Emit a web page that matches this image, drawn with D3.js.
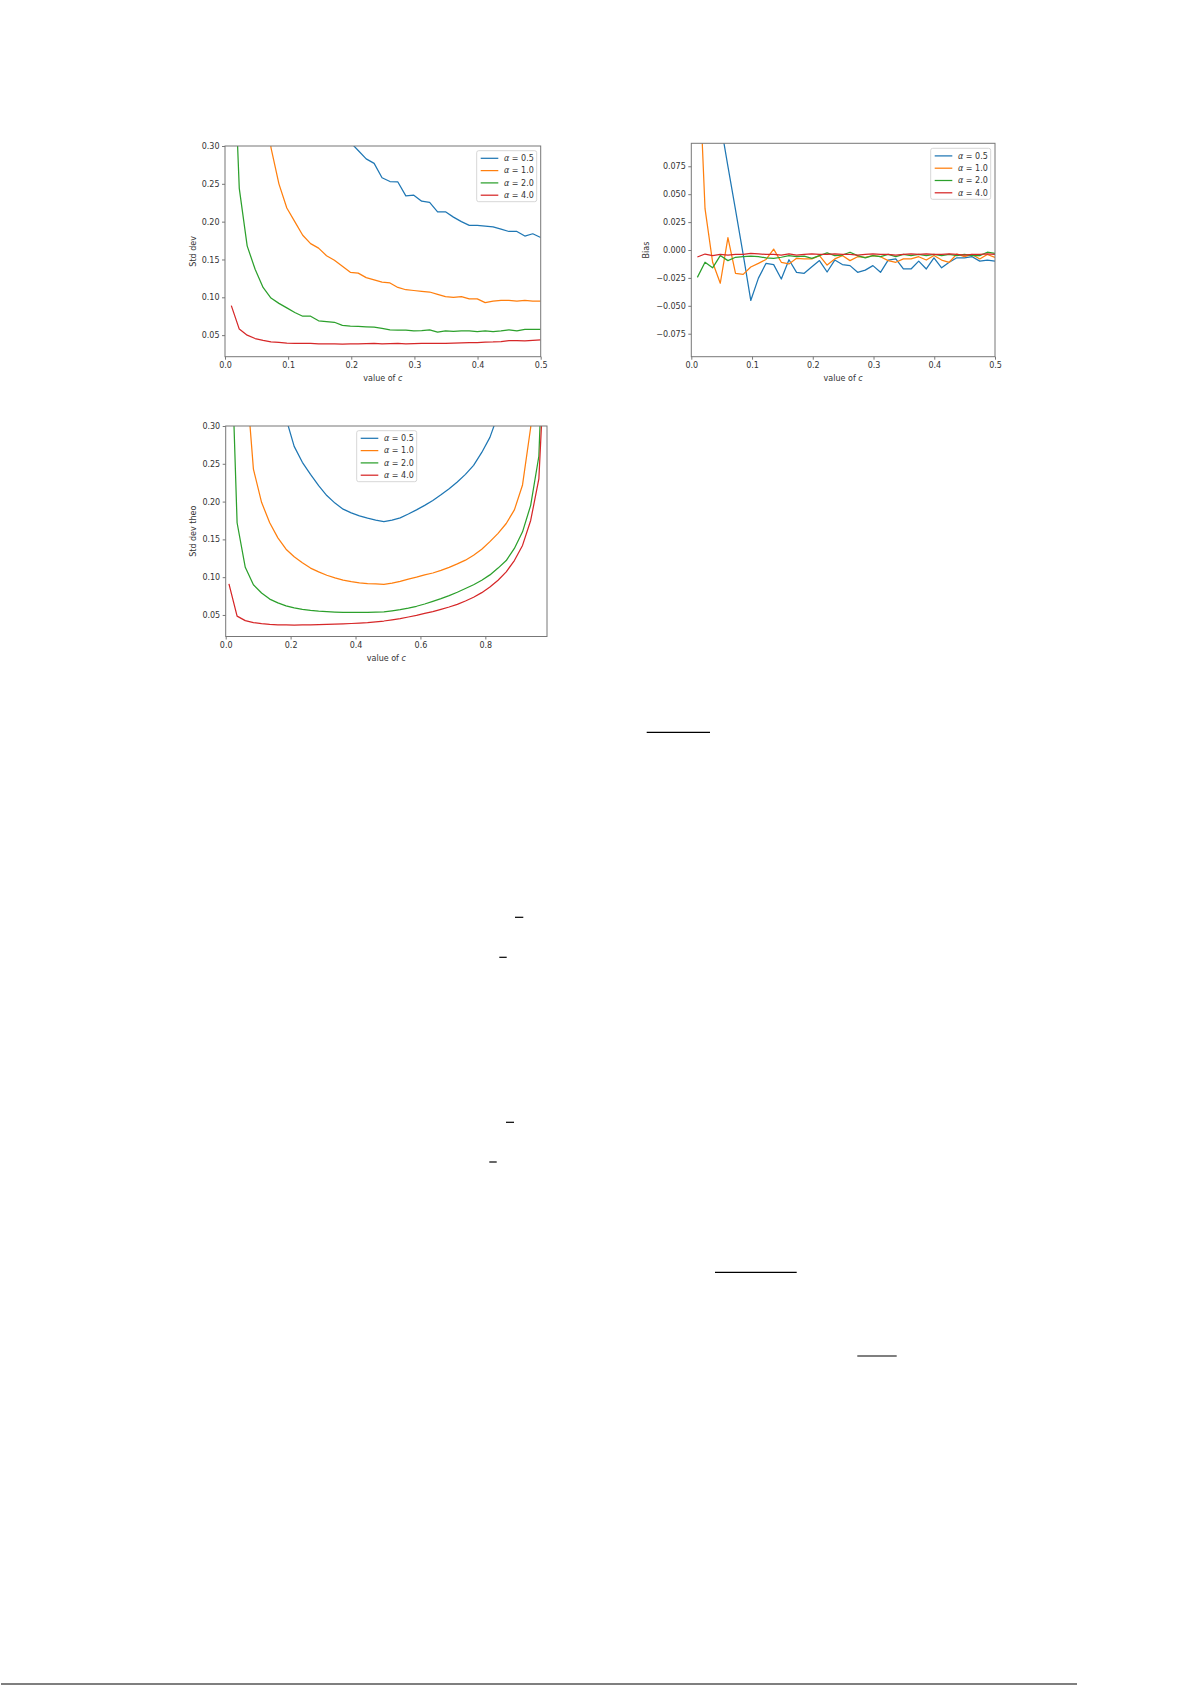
<!DOCTYPE html>
<html>
<head>
<meta charset="utf-8">
<script src="https://cdn.jsdelivr.net/npm/d3@7"></script>
<style>
  html, body { margin: 0; padding: 0; background: #fff; }
  svg { display: block; font-family: "DejaVu Sans", sans-serif; }
</style>
</head>
<body>
<svg id="page"></svg>
<script>
// sample points of c (simulation: 40 points on [0.01, 0.5], theory: 40 points on [0.01, 0.99])
const cSim = [0.0100, 0.0226, 0.0351, 0.0477, 0.0603, 0.0728, 0.0854, 0.0979, 0.1105, 0.1231,
              0.1356, 0.1482, 0.1608, 0.1733, 0.1859, 0.1985, 0.2110, 0.2236, 0.2362, 0.2487,
              0.2613, 0.2738, 0.2864, 0.2990, 0.3115, 0.3241, 0.3367, 0.3492, 0.3618, 0.3744,
              0.3869, 0.3995, 0.4121, 0.4246, 0.4372, 0.4497, 0.4623, 0.4749, 0.4874, 0.5000];
const cTheo = [0.0100, 0.0351, 0.0603, 0.0854, 0.1105, 0.1356, 0.1608, 0.1859, 0.2110, 0.2362,
               0.2613, 0.2864, 0.3115, 0.3367, 0.3618, 0.3869, 0.4121, 0.4372, 0.4623, 0.4874,
               0.5126, 0.5377, 0.5628, 0.5879, 0.6131, 0.6382, 0.6633, 0.6885, 0.7136, 0.7387,
               0.7638, 0.7890, 0.8141, 0.8392, 0.8644, 0.8895, 0.9146, 0.9397, 0.9649, 0.9900];

const alphas = ["0.5", "1.0", "2.0", "4.0"];
const colors = ["#1f77b4", "#ff7f0e", "#2ca02c", "#d62728"];

// Std dev (simulated)
const stdA05 = [1.6, 1.25, 1.0, 0.85, 0.74, 0.66, 0.59, 0.53, 0.48, 0.44,
                0.41, 0.385, 0.365, 0.345, 0.325, 0.305, 0.294, 0.283, 0.277, 0.258,
                0.253, 0.2525, 0.234, 0.235, 0.227, 0.2255, 0.213, 0.213, 0.206, 0.2,
                0.195, 0.195, 0.194, 0.193, 0.19, 0.187, 0.187, 0.181, 0.184, 0.179];
const stdA10 = [2.2, 1.3, 0.85, 0.6, 0.42, 0.298, 0.25, 0.218, 0.2, 0.182,
                0.171, 0.165, 0.155, 0.149, 0.141, 0.133, 0.132, 0.126, 0.123, 0.12,
                0.119, 0.113, 0.11, 0.109, 0.108, 0.107, 0.104, 0.101, 0.1, 0.101,
                0.098, 0.098, 0.093, 0.095, 0.096, 0.096, 0.095, 0.096, 0.095, 0.095];
const stdA20 = [0.51, 0.244, 0.168, 0.137, 0.113, 0.099, 0.092, 0.086, 0.08, 0.075,
                0.075, 0.069, 0.068, 0.067, 0.063, 0.062, 0.0615, 0.061, 0.0605, 0.059,
                0.057, 0.0565, 0.0565, 0.0555, 0.056, 0.057, 0.054, 0.0555, 0.055, 0.0555,
                0.0555, 0.0545, 0.0555, 0.0545, 0.0555, 0.057, 0.0555, 0.0575, 0.0575, 0.0575];
const stdA40 = [0.089, 0.058, 0.05, 0.0455, 0.043, 0.041, 0.0405, 0.0395, 0.039, 0.039,
                0.0392, 0.0385, 0.0383, 0.0385, 0.0382, 0.0385, 0.0385, 0.0388, 0.0392, 0.0385,
                0.0388, 0.039, 0.0385, 0.0388, 0.039, 0.039, 0.0392, 0.039, 0.0395, 0.0398,
                0.04, 0.04, 0.0408, 0.041, 0.0415, 0.0428, 0.0428, 0.0425, 0.0432, 0.0437];

// Bias (simulated)
const biasA05 = [0.26, 0.21, 0.16, 0.115, 0.075, 0.036, -0.004, -0.0452, -0.0252, -0.0119,
                 -0.0131, -0.026, -0.0087, -0.02, -0.0209, -0.015, -0.0095, -0.0197, -0.009, -0.013,
                 -0.014, -0.02, -0.018, -0.014, -0.02, -0.009, -0.008, -0.017, -0.017, -0.01,
                 -0.017, -0.007, -0.016, -0.011, -0.007, -0.007, -0.006, -0.01, -0.009, -0.01];
const biasA10 = [0.2, 0.037, -0.011, -0.0298, 0.011, -0.021, -0.0218, -0.0152, -0.012, -0.0085,
                 0.0008, -0.011, -0.0125, -0.0075, -0.008, -0.008, -0.005, -0.0135, -0.008, -0.005,
                 -0.0095, -0.006, -0.0065, -0.005, -0.006, -0.0095, -0.011, -0.008, -0.008, -0.006,
                 -0.009, -0.005, -0.009, -0.011, -0.0036, -0.006, -0.004, -0.008, -0.004, -0.0066];
const biasA20 = [-0.0245, -0.011, -0.016, -0.005, -0.0095, -0.0065, -0.006, -0.0055, -0.006, -0.007,
                 -0.0075, -0.0065, -0.005, -0.006, -0.0055, -0.0075, -0.005, -0.0025, -0.005, -0.0045,
                 -0.002, -0.005, -0.007, -0.005, -0.006, -0.004, -0.006, -0.004, -0.005, -0.004,
                 -0.005, -0.004, -0.005, -0.004, -0.005, -0.004, -0.005, -0.005, -0.002, -0.003];
const biasA40 = [-0.0063, -0.0036, -0.005, -0.004, -0.0045, -0.004, -0.004, -0.003, -0.0035, -0.004,
                 -0.004, -0.0045, -0.0035, -0.0045, -0.004, -0.0035, -0.004, -0.004, -0.0035, -0.004,
                 -0.004, -0.0045, -0.004, -0.0035, -0.004, -0.004, -0.0045, -0.004, -0.0035, -0.004,
                 -0.0035, -0.004, -0.004, -0.0035, -0.004, -0.0045, -0.004, -0.004, -0.0035, -0.004];

// Std dev (theoretical)
const theoA05 = [2.0, 1.3, 0.95, 0.72, 0.57, 0.46, 0.375, 0.31, 0.273, 0.252,
                 0.236, 0.221, 0.208, 0.198, 0.19, 0.185, 0.181, 0.178, 0.1755, 0.1735,
                 0.1755, 0.1785, 0.1835, 0.189, 0.195, 0.2015, 0.209, 0.217, 0.226, 0.236,
                 0.248, 0.265, 0.285, 0.315, 0.36, 0.43, 0.55, 0.75, 1.1, 2.0];
const theoA10 = [1.0, 0.62, 0.38, 0.243, 0.199, 0.172, 0.152, 0.137, 0.127, 0.119,
                 0.112, 0.107, 0.1025, 0.099, 0.096, 0.094, 0.0925, 0.0915, 0.091, 0.0905,
                 0.092, 0.0945, 0.0975, 0.1, 0.103, 0.1055, 0.109, 0.113, 0.1175, 0.1225,
                 0.129, 0.137, 0.147, 0.158, 0.171, 0.189, 0.222, 0.298, 0.45, 1.0];
const theoA20 = [0.51, 0.172, 0.113, 0.09, 0.079, 0.071, 0.066, 0.062, 0.0595, 0.0575,
                 0.056, 0.055, 0.0543, 0.0538, 0.0535, 0.0533, 0.0533, 0.0535, 0.0537, 0.054,
                 0.0555, 0.057, 0.059, 0.0615, 0.0645, 0.068, 0.0715, 0.0755, 0.08, 0.085,
                 0.09, 0.096, 0.103, 0.112, 0.122, 0.138, 0.16, 0.195, 0.26, 0.55];
const theoA40 = [0.091, 0.0485, 0.0425, 0.0398, 0.0385, 0.0375, 0.037, 0.0368, 0.0367, 0.0368,
                 0.037, 0.0372, 0.0375, 0.0378, 0.0382, 0.0387, 0.0393, 0.04, 0.041, 0.042,
                 0.0435, 0.0452, 0.0473, 0.0495, 0.052, 0.0545, 0.0575, 0.0605, 0.064, 0.0685,
                 0.0735, 0.0795, 0.087, 0.096, 0.107, 0.122, 0.142, 0.175, 0.23, 0.45];

const stdTicksY  = [0.05, 0.10, 0.15, 0.20, 0.25, 0.30];
const biasTicksY = [-0.075, -0.050, -0.025, 0.000, 0.025, 0.050, 0.075];
const simTicksX  = [0.0, 0.1, 0.2, 0.3, 0.4, 0.5];
const theoTicksX = [0.0, 0.2, 0.4, 0.6, 0.8];

// leftover fraction bars of the page text (page layout, not data)
const pageRules = [
    [646.7, 710, 732.3], [515, 523.3, 917.3], [499.3, 506.7, 957.3],
    [506, 514, 1122.3], [489.3, 496.7, 1162], [715, 796.7, 1272.3],
    [857.3, 896.7, 1356], [1, 1077, 1684]
];

const W = 1192, H = 1685;
const svg = d3.select("#page").attr("width", W).attr("height", H);
svg.append("rect").attr("width", W).attr("height", H).attr("fill", "#fff");

const minus = s => s.replace("-", "\u2212");

const panels = [
    { id: "p1", left: 225, top: 146, right: 540.7, bottom: 356.7,
      xDomain: [0, 0.5], yDomain: [0.0215, 0.30], xTicks: simTicksX, yTicks: stdTicksY,
      yFmt: d3.format(".2f"), xFmt: d3.format(".1f"),
      yLabel: "Std dev", yLabelX: 192.7, xs: cSim,
      series: [stdA05, stdA10, stdA20, stdA40],
      legend: { x: 476.7, y: 150.7 } },
    { id: "p2", left: 691.3, top: 143.3, right: 995, bottom: 356.7,
      xDomain: [0, 0.5], yDomain: [-0.0956, 0.0956], xTicks: simTicksX, yTicks: biasTicksY,
      yFmt: d => minus(d3.format(".3f")(d)), xFmt: d3.format(".1f"),
      yLabel: "Bias", yLabelX: 646.5, xs: cSim,
      series: [biasA05, biasA10, biasA20, biasA40],
      legend: { x: 930.7, y: 148.3 } },
    { id: "p3", left: 225.7, top: 426, right: 547, bottom: 636.5,
      xDomain: [0, 0.99], yDomain: [0.0215, 0.30], xTicks: theoTicksX, yTicks: stdTicksY,
      yFmt: d3.format(".2f"), xFmt: d3.format(".1f"),
      yLabel: "Std dev theo", yLabelX: 192.7, xs: cTheo,
      series: [theoA05, theoA10, theoA20, theoA40],
      legend: { x: 356.7, y: 430.7 } }
];

function drawPanel(p) {
    const x = d3.scaleLinear().domain(p.xDomain).range([p.left, p.right]);
    const y = d3.scaleLinear().domain(p.yDomain).range([p.bottom, p.top]);
    const g = svg.append("g");

    g.append("clipPath").attr("id", "clip-" + p.id)
        .append("rect")
        .attr("x", p.left).attr("y", p.top)
        .attr("width", p.right - p.left).attr("height", p.bottom - p.top);

    const line = d3.line().x((d, i) => x(p.xs[i])).y(d => y(d));
    p.series.forEach((vals, k) => {
        g.append("path")
            .datum(vals)
            .attr("clip-path", `url(#clip-${p.id})`)
            .attr("fill", "none")
            .attr("stroke", colors[k])
            .attr("stroke-width", 1.25)
            .attr("stroke-linejoin", "round")
            .attr("d", line);
    });

    // axes
    const ax = g.append("g").attr("transform", `translate(0,${p.bottom})`)
        .call(d3.axisBottom(x).tickValues(p.xTicks).tickFormat(p.xFmt).tickSize(3).tickSizeOuter(0).tickPadding(2.5));
    const ay = g.append("g").attr("transform", `translate(${p.left},0)`)
        .call(d3.axisLeft(y).tickValues(p.yTicks).tickFormat(p.yFmt).tickSize(3).tickSizeOuter(0).tickPadding(2.5));
    [ax, ay].forEach(a => {
        a.select(".domain").remove();
        a.selectAll(".tick line").attr("stroke", "#555").attr("stroke-width", 0.8);
        a.selectAll("text").attr("fill", "#333").attr("font-size", 8)
            .attr("font-family", "DejaVu Sans");
    });

    // frame
    g.append("rect")
        .attr("x", p.left).attr("y", p.top)
        .attr("width", p.right - p.left).attr("height", p.bottom - p.top)
        .attr("fill", "none").attr("stroke", "#777").attr("stroke-width", 1);

    // labels
    const xl = g.append("text")
        .attr("x", (p.left + p.right) / 2).attr("y", p.bottom + 24)
        .attr("text-anchor", "middle").attr("font-size", 8).attr("fill", "#333");
    xl.append("tspan").text("value of ");
    xl.append("tspan").attr("font-style", "italic").text("c");

    g.append("text")
        .attr("transform", `translate(${p.yLabelX},${(p.top + p.bottom) / 2}) rotate(-90)`)
        .attr("text-anchor", "middle").attr("dy", "0.35em")
        .attr("font-size", 8).attr("fill", "#333")
        .text(p.yLabel);

    // legend
    const lg = g.append("g").attr("transform", `translate(${p.legend.x},${p.legend.y})`);
    lg.append("rect")
        .attr("width", 60).attr("height", 51).attr("rx", 2)
        .attr("fill", "#fff").attr("fill-opacity", 0.85)
        .attr("stroke", "#ccc").attr("stroke-width", 0.8);
    alphas.forEach((a, k) => {
        const cy = 7.6 + k * 12.3;
        lg.append("line")
            .attr("x1", 4).attr("x2", 21.6).attr("y1", cy).attr("y2", cy)
            .attr("stroke", colors[k]).attr("stroke-width", 1.25);
        const t = lg.append("text")
            .attr("x", 27.3).attr("y", cy).attr("dy", "0.35em")
            .attr("font-size", 8).attr("fill", "#333");
        t.append("tspan").attr("font-style", "italic").text("\u03b1");
        t.append("tspan").text(" = " + a);
    });
}

panels.forEach(drawPanel);

svg.append("g").selectAll("line")
    .data(pageRules)
    .join("line")
    .attr("x1", d => d[0]).attr("x2", d => d[1])
    .attr("y1", d => d[2]).attr("y2", d => d[2])
    .attr("stroke", "#000").attr("stroke-width", 1.2);
</script>
</body>
</html>
